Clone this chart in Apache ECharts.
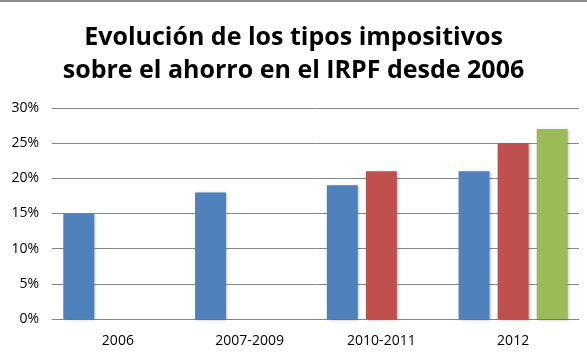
<!DOCTYPE html>
<html><head><meta charset="utf-8">
<script src="https://cdn.jsdelivr.net/npm/echarts@6/dist/echarts.min.js"></script>
<style>html,body{margin:0;padding:0;background:#fff}#c{width:587px;height:356px;box-sizing:border-box;border-top:2px solid #8c8c8c}</style>
</head><body><div id="c"></div>
<script>
const categories = ['2006', '2007-2009', '2010-2011', '2012'];
const serieA = [15, 18, 19, 21];
const serieB = [null, null, 21, 25];
const serieC = [null, null, null, 27];
const yTicks = [0, 5, 10, 15, 20, 25, 30];

const chart = echarts.init(document.getElementById('c'));
const barStyle = (color) => ({ color: color, shadowColor: 'rgba(0,0,0,0.25)', shadowBlur: 3, shadowOffsetX: 1, shadowOffsetY: 1 });
chart.setOption({
  animation: false,
  title: {
    text: 'Evolución de los tipos impositivos\nsobre el ahorro en el IRPF desde 2006',
    left: 'center', top: 14,
    textStyle: { fontFamily: 'Open Sans', fontWeight: 'bold', fontSize: 25, lineHeight: 33, color: '#000' }
  },
  grid: { left: 52, right: 8, top: 106, bottom: 37 },
  xAxis: {
    type: 'category', data: categories,
    axisLine: { lineStyle: { color: '#868686' } },
    axisTick: { show: false },
    axisLabel: { fontFamily: 'Open Sans', fontSize: 14, color: '#000', margin: 15 }
  },
  yAxis: {
    type: 'value', min: 0, max: 30, interval: 5,
    axisLine: { show: false }, axisTick: { show: false },
    splitLine: { lineStyle: { color: '#868686' } },
    axisLabel: { fontFamily: 'Open Sans', fontSize: 14, color: '#000', margin: 13, formatter: v => yTicks.includes(v) ? v + '%' : '' }
  },
  series: [
    { type: 'bar', data: serieA, barWidth: 31, barGap: '26%', itemStyle: barStyle('#4F81BD') },
    { type: 'bar', data: serieB, barWidth: 31, barGap: '26%', itemStyle: barStyle('#C0504D') },
    { type: 'bar', data: serieC, barWidth: 31, barGap: '26%', itemStyle: barStyle('#9BBB59') }
  ]
});
</script></body></html>
